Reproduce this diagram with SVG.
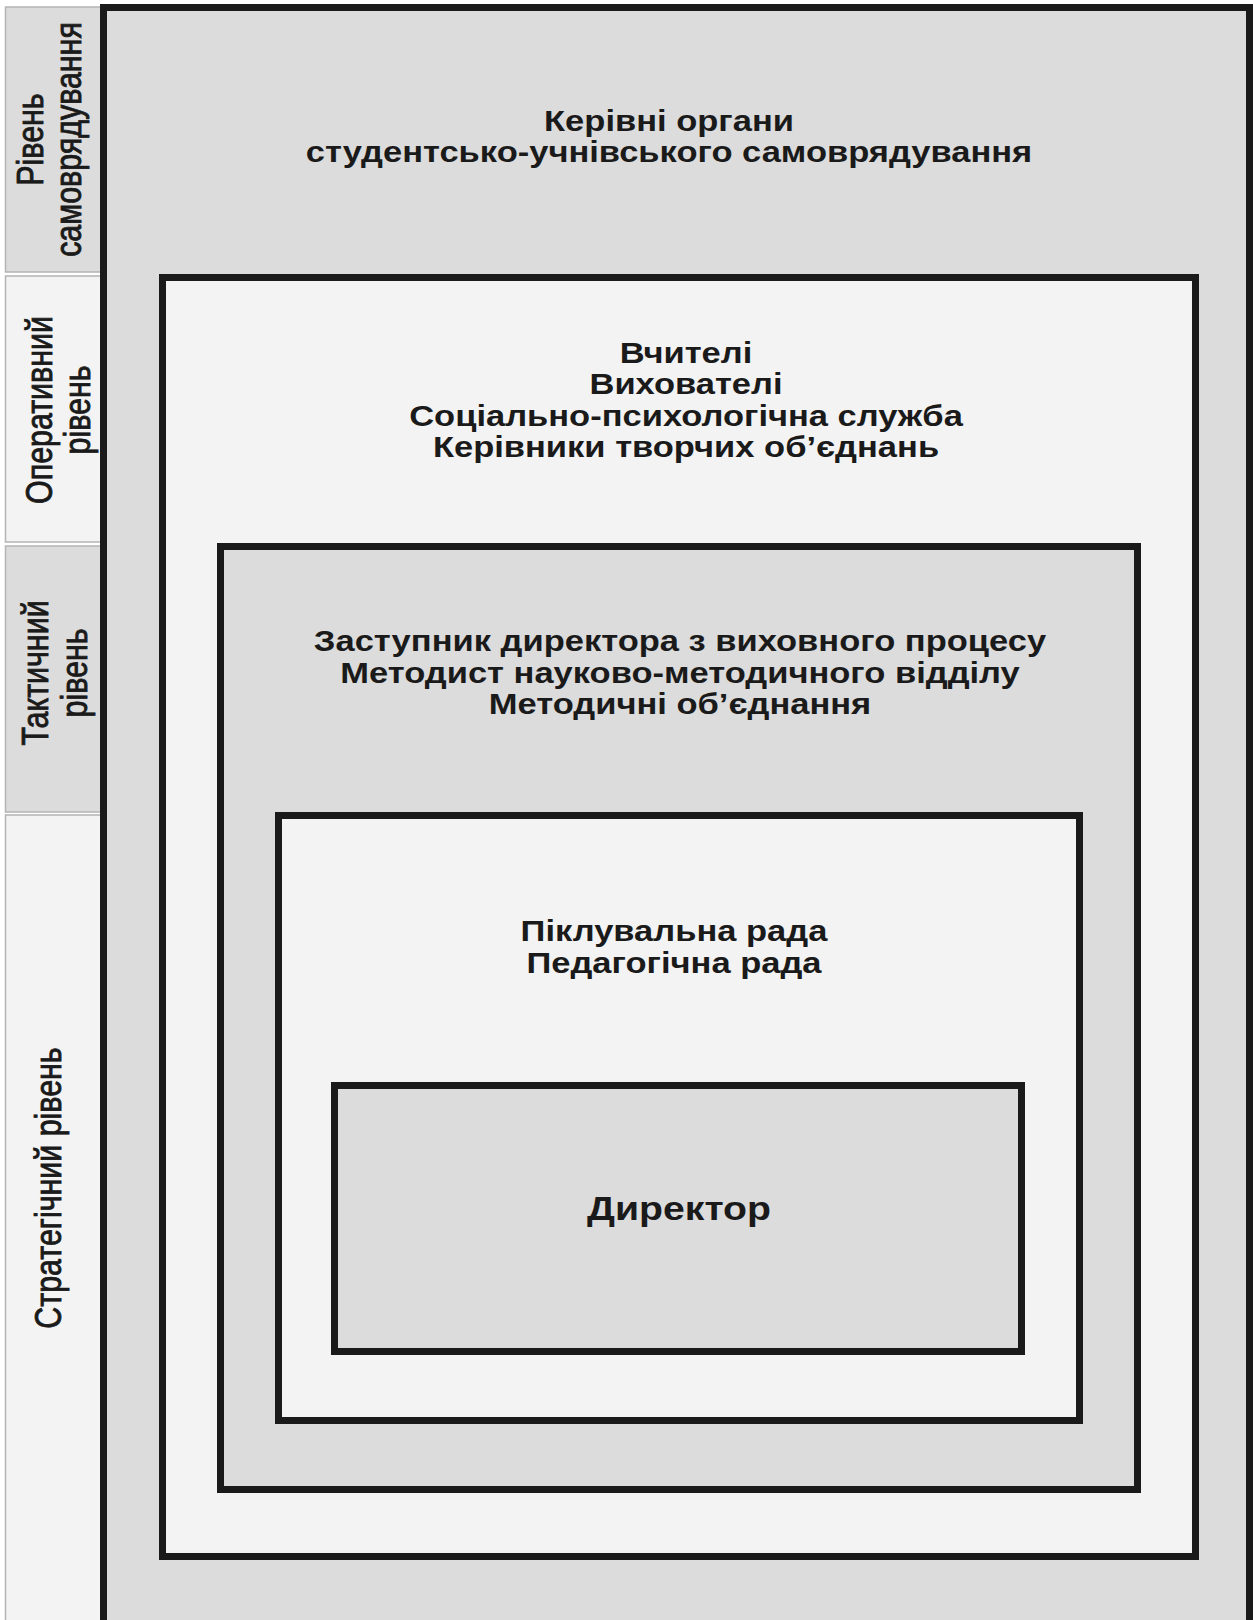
<svg xmlns="http://www.w3.org/2000/svg" width="1253" height="1620" viewBox="0 0 1253 1620">
  <style>
    .cell-dark { fill: #dcdcdc; stroke: #b4b4b4; stroke-width: 1.5; }
    .cell-light { fill: #f3f3f3; stroke: #b4b4b4; stroke-width: 1.5; }
    .box { stroke: #1a1a1a; stroke-width: 7; }
    .dark { fill: #dcdcdc; }
    .light { fill: #f3f3f3; }
    .lbl { font-family: "Liberation Sans", Arial, sans-serif; font-size: 30.4px; fill: #1a1a1a; stroke: #1a1a1a; stroke-width: 0.7; text-anchor: middle; }
    .t { font-family: "Liberation Sans", Arial, sans-serif; font-weight: bold; font-size: 29.5px; fill: #1a1a1a; text-anchor: middle; }
    .big { font-size: 33.5px; }
  </style>

  <rect width="1253" height="1620" fill="#ffffff"/>

  <!-- level labels on the left -->
  <g id="level-self-government">
    <rect class="cell-dark" x="5.5" y="7" width="96" height="265"/>
    <text class="lbl" transform="translate(43 139.5) scale(1.24 1) rotate(-90)">Рівень</text>
    <text class="lbl" transform="translate(81 139.5) scale(1.24 1) rotate(-90)">самоврядування</text>
  </g>
  <g id="level-operational">
    <rect class="cell-light" x="5.5" y="276" width="96" height="266"/>
    <text class="lbl" transform="translate(52 410) scale(1.24 1) rotate(-90)">Оперативний</text>
    <text class="lbl" transform="translate(90 410) scale(1.24 1) rotate(-90)">рівень</text>
  </g>
  <g id="level-tactical">
    <rect class="cell-dark" x="5.5" y="546" width="96" height="266"/>
    <text class="lbl" transform="translate(48 673) scale(1.24 1) rotate(-90)">Тактичний</text>
    <text class="lbl" transform="translate(87 673) scale(1.24 1) rotate(-90)">рівень</text>
  </g>
  <g id="level-strategic">
    <rect class="cell-light" x="5.5" y="815" width="96" height="830"/>
    <text class="lbl" transform="translate(61 1188) scale(1.24 1) rotate(-90)">Стратегічний рівень</text>
  </g>

  <!-- nested management levels -->
  <g id="self-government-bodies">
    <rect class="box dark" x="103.5" y="7.5" width="1146" height="1640"/>
    <text class="t" transform="translate(669 130.5) scale(1.17 1)">Керівні органи</text>
    <text class="t" transform="translate(669 162) scale(1.17 1)">студентсько-учнівського самоврядування</text>
  </g>
  <g id="teachers">
    <rect class="box light" x="162.5" y="277.5" width="1033" height="1279"/>
    <text class="t" transform="translate(686 362.5) scale(1.17 1)">Вчителі</text>
    <text class="t" transform="translate(686 394) scale(1.17 1)">Вихователі</text>
    <text class="t" transform="translate(686 425.5) scale(1.17 1)">Соціально-психологічна служба</text>
    <text class="t" transform="translate(686 457) scale(1.17 1)">Керівники творчих об’єднань</text>
  </g>
  <g id="deputy">
    <rect class="box dark" x="220.5" y="546.5" width="917" height="943"/>
    <text class="t" transform="translate(680 651) scale(1.17 1)">Заступник директора з виховного процесу</text>
    <text class="t" transform="translate(680 682.5) scale(1.17 1)">Методист науково-методичного відділу</text>
    <text class="t" transform="translate(680 714) scale(1.17 1)">Методичні об’єднання</text>
  </g>
  <g id="councils">
    <rect class="box light" x="278.5" y="815.5" width="801" height="605"/>
    <text class="t" transform="translate(674 941) scale(1.17 1)">Піклувальна рада</text>
    <text class="t" transform="translate(674 973) scale(1.17 1)">Педагогічна рада</text>
  </g>
  <g id="director">
    <rect class="box dark" x="334.5" y="1085.5" width="687" height="266"/>
    <text class="t big" transform="translate(679 1220) scale(1.17 1)">Директор</text>
  </g>

  <g id="connectors"/>
</svg>
